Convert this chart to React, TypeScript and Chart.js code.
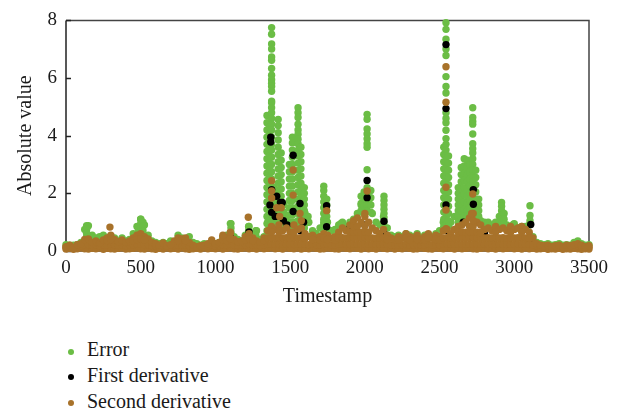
import { useEffect, useRef } from "react";
import { Chart, registerables } from "chart.js";

Chart.register(...registerables);

// ---------- DATA ----------
const baseTimestamps = [
  0, 25, 50, 75, 100, 125, 150, 175, 200, 225, 250, 275, 300, 325, 350, 375, 400, 425, 450, 475,
  500, 525, 550, 575, 600, 625, 650, 675, 700, 725, 750, 775, 800, 825, 850, 875, 900, 925, 950, 975,
  1000, 1025, 1050, 1075, 1100, 1125, 1150, 1175, 1200, 1225, 1250, 1275, 1300, 1325, 1350, 1375, 1400, 1425, 1450, 1475,
  1500, 1525, 1550, 1575, 1600, 1625, 1650, 1675, 1700, 1725, 1750, 1775, 1800, 1825, 1850, 1875, 1900, 1925, 1950, 1975,
  2000, 2025, 2050, 2075, 2100, 2125, 2150, 2175, 2200, 2225, 2250, 2275, 2300, 2325, 2350, 2375, 2400, 2425, 2450, 2475,
  2500, 2525, 2550, 2575, 2600, 2625, 2650, 2675, 2700, 2725, 2750, 2775, 2800, 2825, 2850, 2875, 2900, 2925, 2950, 2975,
  3000, 3025, 3050, 3075, 3100, 3125, 3150, 3175, 3200, 3225, 3250, 3275, 3300, 3325, 3350, 3375, 3400, 3425, 3450, 3475,
  3500,
];

// Error (green) envelope at base timestamps
const errorBase = [
  0.22, 0.2, 0.2, 0.22, 0.3, 0.75, 0.88, 0.55, 0.45, 0.5, 0.55, 0.45, 0.5, 0.45, 0.35, 0.45, 0.35, 0.4, 0.6, 0.85,
  1.1, 0.9, 0.55, 0.35, 0.3, 0.25, 0.3, 0.25, 0.35, 0.3, 0.55, 0.45, 0.4, 0.5, 0.3, 0.25, 0.2, 0.25, 0.22, 0.3,
  0.25, 0.3, 0.45, 0.55, 0.95, 0.5, 0.4, 0.35, 0.55, 0.85, 0.55, 0.7, 0.4, 0.5, 1.0, 1.0, 1.2, 1.0, 1.1, 1.2,
  1.0, 1.0, 1.0, 1.0, 1.3, 1.0, 0.7, 0.6, 0.8, 1.0, 1.0, 0.7, 0.75, 0.9, 1.0, 0.85, 1.0, 1.1, 1.3, 1.6,
  1.75, 1.7, 1.3, 1.0, 0.9, 1.2, 0.8, 0.55, 0.5, 0.55, 0.5, 0.6, 0.55, 0.5, 0.6, 0.45, 0.55, 0.55, 0.5, 0.6,
  0.7, 1.0, 1.0, 1.0, 1.2, 1.2, 1.2, 1.2, 1.2, 1.2, 1.2, 1.05, 1.0, 1.0, 0.9, 1.0, 1.2, 1.2, 0.9, 0.85,
  0.95, 0.8, 0.85, 0.85, 0.9, 0.5, 0.3, 0.25, 0.22, 0.25, 0.2, 0.22, 0.25, 0.2, 0.22, 0.2, 0.3, 0.35, 0.25, 0.2,
  0.22,
];

// Error (green) spikes: [timestamp, values]
const errorColumns: [number, number[]][] = [
  [138, [0.88, 0.75, 0.62, 0.5]],
  [485, [0.8, 0.65]],
  [500, [1.1, 0.95, 0.8, 0.68]],
  [515, [1.0, 0.85, 0.7]],
  [1104, [0.95, 0.8, 0.65]],
  [1222, [0.85, 0.7]],
  [1270, [0.7, 0.55]],
  [1345, [4.7, 4.45, 4.2, 3.95, 3.7, 3.45, 3.2, 2.95, 2.7, 2.45, 2.2, 1.95, 1.7, 1.45, 1.2, 0.95, 0.7, 0.5]],
  [1362, [4.3, 4.05, 3.8, 3.55, 3.3, 3.05, 2.8, 2.55, 2.3, 2.05, 1.8, 1.55, 1.3, 1.05, 0.8]],
  [1376, [7.75, 7.52, 7.18, 7.01, 6.73, 6.62, 6.33, 6.1, 5.94, 5.82, 5.71, 5.54, 5.2, 5.14, 4.97, 4.8, 4.6, 4.4, 4.2, 3.95, 3.7, 3.5, 3.25, 3.0, 2.75, 2.5, 2.25, 2.0, 1.75, 1.5, 1.25, 1.0]],
  [1392, [2.2, 1.95, 1.7, 1.45, 1.2, 0.95]],
  [1420, [4.56, 4.35, 4.1, 3.85, 3.6, 3.35, 3.1, 2.85, 2.6, 2.35, 2.1, 1.85, 1.6, 1.35, 1.1, 0.85]],
  [1440, [3.4, 3.15, 2.9, 2.65, 2.4, 2.15, 1.9, 1.65, 1.4, 1.15, 0.9]],
  [1458, [1.6, 1.35, 1.1, 0.85]],
  [1495, [3.0, 2.75, 2.5, 2.25, 2.0, 1.75, 1.5, 1.25, 1.0, 0.8]],
  [1515, [3.95, 3.75, 3.5, 3.25, 3.0, 2.75, 2.5, 2.25, 2.0, 1.75, 1.5, 1.25, 1.0, 0.8]],
  [1553, [4.97, 4.8, 4.63, 4.4, 4.2, 4.05, 3.88, 3.72, 3.5, 3.3, 3.05, 2.8, 2.55, 2.3, 2.05, 1.8, 1.55, 1.3, 1.05, 0.8]],
  [1572, [3.6, 3.35, 3.1, 2.85, 2.6, 2.35, 2.1, 1.85, 1.6, 1.35, 1.1, 0.85]],
  [1595, [2.2, 2.0, 1.8, 1.6, 1.4, 1.2, 1.0, 0.8]],
  [1620, [1.2, 1.0]],
  [1725, [2.25, 2.1, 1.9, 1.7, 1.5, 1.3, 1.1, 0.9, 0.7]],
  [1745, [1.8, 1.6, 1.4, 1.2, 1.0, 0.8]],
  [1840, [0.96]],
  [1975, [1.9, 1.65, 1.4]],
  [1995, [2.05, 1.8, 1.55, 1.3]],
  [2015, [4.74, 4.57, 4.23, 4.06, 3.89, 3.72, 3.6, 2.82, 2.2, 2.0, 1.8, 1.6, 1.4]],
  [2040, [2.1, 1.85, 1.6, 1.35]],
  [2128, [1.9, 1.75, 1.6, 1.45, 1.3, 1.15, 1.0, 0.85]],
  [2528, [3.6, 3.35, 3.1, 2.85, 2.6, 2.35, 2.1, 1.85, 1.6, 1.35, 1.1, 0.85]],
  [2543, [7.92, 7.69, 7.35, 7.01, 6.78, 6.05, 5.71, 5.48, 4.8, 4.6, 4.45, 4.19, 3.9, 3.7, 3.5, 3.3, 3.1, 2.9, 2.7, 2.5, 2.3, 2.1, 1.9, 1.7, 1.5, 1.3, 1.1, 0.9]],
  [2560, [3.3, 3.05, 2.8, 2.55, 2.3, 2.05, 1.8, 1.55, 1.3, 1.05, 0.85]],
  [2625, [2.2, 2.0, 1.8, 1.6, 1.4, 1.2, 1.0]],
  [2645, [2.9, 2.65, 2.4, 2.15, 1.9, 1.65, 1.4, 1.15]],
  [2665, [3.2, 2.95, 2.7, 2.45, 2.2, 1.95, 1.7, 1.45, 1.2]],
  [2685, [3.15, 2.9, 2.65, 2.4, 2.15, 1.9, 1.65, 1.4, 1.2]],
  [2703, [3.0, 2.75, 2.5, 2.25, 2.0, 1.75, 1.5, 1.25]],
  [2722, [4.97, 4.63, 4.5, 4.4, 4.06, 3.72, 3.55, 3.4, 3.2, 3.0, 2.8, 2.6, 2.4, 2.2, 2.0, 1.8, 1.6, 1.4, 1.2]],
  [2742, [2.8, 2.55, 2.3, 2.05, 1.8, 1.55, 1.3, 1.1]],
  [2762, [1.8, 1.6, 1.4, 1.2, 1.0]],
  [2915, [1.68, 1.55, 1.4, 1.25, 1.1, 0.95]],
  [2932, [1.3, 1.1, 0.95]],
  [2995, [0.93]],
  [3075, [0.83]],
  [3105, [1.57, 1.23, 1.05]],
];

// First derivative (black) visible points
const firstPoints: [number, number][] = [
  [1060, 0.45], [1100, 0.5], [1225, 0.66], [1365, 1.6], [1370, 3.95], [1370, 3.78], [1376, 2.13],
  [1376, 1.34], [1400, 1.2], [1410, 1.9], [1435, 1.68], [1447, 1.68], [1455, 1.05], [1480, 0.9],
  [1520, 3.32], [1520, 1.37], [1566, 1.65], [1570, 0.7], [1590, 1.0], [1744, 1.57], [1744, 0.84],
  [1900, 0.8], [2000, 0.9], [2015, 2.45], [2015, 1.85], [2128, 1.03], [2128, 0.61], [2300, 0.3],
  [2390, 0.37], [2543, 7.16], [2543, 4.94], [2543, 1.6], [2543, 0.71], [2659, 1.0], [2726, 2.13],
  [2726, 1.62], [2800, 0.6], [3100, 0.35], [3110, 0.92],
];

// Second derivative (brown) at base timestamps: low, mid and upper values
const secondLow = [
  0.07, 0.09, 0.06, 0.08, 0.1, 0.08, 0.07, 0.09, 0.08, 0.1, 0.06, 0.09, 0.08, 0.07, 0.09, 0.1, 0.07, 0.08, 0.09, 0.1,
  0.08, 0.07, 0.1, 0.08, 0.06, 0.09, 0.07, 0.1, 0.08, 0.09, 0.07, 0.1, 0.08, 0.06, 0.08, 0.09, 0.07, 0.1, 0.08, 0.09,
  0.08, 0.1, 0.07, 0.09, 0.1, 0.08, 0.07, 0.09, 0.1, 0.08, 0.09, 0.07, 0.1, 0.08, 0.09, 0.1, 0.08, 0.09, 0.07, 0.1,
  0.09, 0.08, 0.1, 0.07, 0.09, 0.08, 0.1, 0.09, 0.07, 0.08, 0.1, 0.09, 0.08, 0.07, 0.1, 0.09, 0.08, 0.1, 0.09, 0.07,
  0.1, 0.08, 0.09, 0.07, 0.1, 0.09, 0.08, 0.1, 0.07, 0.09, 0.08, 0.1, 0.09, 0.07, 0.08, 0.1, 0.09, 0.08, 0.07, 0.1,
  0.09, 0.08, 0.1, 0.09, 0.07, 0.1, 0.08, 0.09, 0.1, 0.08, 0.07, 0.09, 0.1, 0.08, 0.09, 0.07, 0.1, 0.08, 0.09, 0.1,
  0.08, 0.09, 0.07, 0.1, 0.08, 0.09, 0.07, 0.08, 0.09, 0.06, 0.08, 0.07, 0.09, 0.06, 0.08, 0.07, 0.09, 0.08, 0.06, 0.08,
  0.07,
];
const secondMid = [
  0.12, 0.14, 0.1, 0.15, 0.17, 0.22, 0.22, 0.2, 0.21, 0.18, 0.22, 0.22, 0.23, 0.22, 0.2, 0.22, 0.19, 0.21, 0.22, 0.23,
  0.23, 0.22, 0.22, 0.19, 0.17, 0.14, 0.18, 0.13, 0.15, 0.21, 0.22, 0.22, 0.22, 0.19, 0.14, 0.12, 0.13, 0.14, 0.17, 0.22,
  0.17, 0.19, 0.22, 0.22, 0.23, 0.22, 0.2, 0.21, 0.22, 0.23, 0.22, 0.21, 0.19, 0.22, 0.23, 0.23, 0.23, 0.23, 0.23, 0.23,
  0.23, 0.23, 0.23, 0.23, 0.23, 0.22, 0.23, 0.22, 0.22, 0.23, 0.23, 0.22, 0.22, 0.23, 0.23, 0.23, 0.23, 0.23, 0.23, 0.23,
  0.23, 0.23, 0.23, 0.23, 0.23, 0.23, 0.23, 0.22, 0.22, 0.22, 0.22, 0.23, 0.22, 0.22, 0.23, 0.22, 0.22, 0.23, 0.22, 0.23,
  0.22, 0.23, 0.23, 0.23, 0.23, 0.23, 0.23, 0.23, 0.23, 0.23, 0.23, 0.23, 0.23, 0.23, 0.23, 0.23, 0.23, 0.23, 0.23, 0.23,
  0.23, 0.23, 0.23, 0.23, 0.23, 0.22, 0.17, 0.14, 0.13, 0.14, 0.12, 0.13, 0.14, 0.12, 0.14, 0.13, 0.15, 0.17, 0.14, 0.12,
  0.13,
];
const secondHigh = [
  0.15, 0.2, 0.12, 0.22, 0.25, 0.4, 0.42, 0.3, 0.35, 0.28, 0.38, 0.45, 0.55, 0.4, 0.32, 0.38, 0.3, 0.35, 0.45, 0.55,
  0.6, 0.5, 0.42, 0.3, 0.25, 0.2, 0.28, 0.18, 0.22, 0.35, 0.45, 0.42, 0.45, 0.3, 0.2, 0.15, 0.18, 0.2, 0.25, 0.38,
  0.25, 0.3, 0.5, 0.45, 0.6, 0.4, 0.32, 0.35, 0.5, 0.6, 0.45, 0.35, 0.3, 0.45, 0.7, 0.85, 0.75, 0.9, 0.7, 0.8,
  0.65, 0.9, 0.75, 0.8, 0.6, 0.5, 0.55, 0.45, 0.5, 0.6, 0.55, 0.45, 0.5, 0.65, 0.8, 0.7, 0.9, 1.05, 1.15, 1.0,
  1.2, 1.0, 0.8, 0.7, 0.6, 0.75, 0.55, 0.45, 0.4, 0.5, 0.45, 0.6, 0.5, 0.45, 0.55, 0.4, 0.5, 0.6, 0.45, 0.55,
  0.5, 0.7, 0.75, 0.6, 0.75, 0.85, 0.9, 1.0, 1.15, 1.3, 1.0, 0.9, 0.75, 0.8, 0.7, 0.85, 0.75, 0.8, 0.7, 0.85,
  0.75, 0.8, 0.85, 0.75, 0.65, 0.45, 0.25, 0.2, 0.18, 0.2, 0.15, 0.18, 0.2, 0.15, 0.2, 0.18, 0.22, 0.25, 0.2, 0.15,
  0.18,
];

// Second derivative (brown) extra points in busier stretches
const secondFill: [number, number][] = [
  [275, 0.36], [300, 0.4], [450, 0.36], [475, 0.4], [500, 0.43], [525, 0.38], [750, 0.36], [800, 0.36],
  [1050, 0.38], [1075, 0.36], [1100, 0.43], [1200, 0.38], [1225, 0.43], [1250, 0.36], [1325, 0.36],
  [1350, 0.45], [1375, 0.46], [1400, 0.45], [1425, 0.47], [1450, 0.45], [1475, 0.46], [1500, 0.44], [1525, 0.47],
  [1550, 0.45], [1575, 0.46], [1600, 0.44], [1650, 0.4], [1700, 0.38], [1725, 0.44], [1750, 0.4], [1800, 0.38],
  [1825, 0.44], [1850, 0.46], [1875, 0.45], [1900, 0.47],
  [1925, 0.46], [1950, 0.47], [1975, 0.46], [2000, 0.47], [2025, 0.46], [2050, 0.45], [2075, 0.44], [2100, 0.44],
  [2125, 0.45], [2150, 0.4], [2225, 0.38], [2275, 0.44], [2300, 0.38], [2350, 0.4], [2400, 0.38], [2425, 0.44],
  [2475, 0.4], [2500, 0.38], [2525, 0.45], [2550, 0.46], [2575, 0.44], [2600, 0.45], [2625, 0.46],
  [2650, 0.47], [2675, 0.46], [2700, 0.47], [2725, 0.46], [2750, 0.47], [2775, 0.46], [2800, 0.45], [2825, 0.46],
  [2850, 0.45], [2875, 0.47], [2900, 0.45], [2925, 0.46], [2950, 0.44], [2975, 0.47], [3000, 0.45], [3025, 0.46],
  [3050, 0.47], [3075, 0.45], [3100, 0.44],
  [1375, 0.65], [1425, 0.66], [1525, 0.65], [1900, 0.66], [1925, 0.65], [1950, 0.67], [1975, 0.65], [2000, 0.66],
  [2025, 0.65], [2625, 0.64], [2650, 0.66], [2675, 0.65], [2700, 0.67], [2725, 0.66], [2750, 0.65], [2775, 0.64],
  [2875, 0.65], [2975, 0.64], [3050, 0.65],
  [1925, 0.85], [1950, 0.86], [2000, 0.87], [2700, 0.86], [2725, 0.87],
  [2725, 1.06],
];

// Second derivative (brown) isolated points
const secondPoints: [number, number][] = [
  [294, 0.83], [1050, 0.55], [1100, 0.65], [1220, 1.17], [1376, 2.44], [1376, 2.08], [1376, 1.84],
  [1410, 1.5], [1430, 1.2], [1440, 1.5], [1520, 2.81], [1520, 1.94], [1566, 1.3], [1575, 1.05],
  [1744, 1.4], [2000, 1.3], [2015, 2.08], [2543, 6.39], [2543, 5.16], [2543, 2.21], [2543, 1.42],
  [2543, 0.77], [2715, 1.3], [2722, 1.98],
];

const seriesNames = ["Error", "First derivative", "Second derivative"];
const seriesColors = ["#6bbd45", "#000000", "#a8722a"];
const xTickStep = 500;
const yTickStep = 2;

// ---------- CHART ----------
const FONT = "'Liberation Serif', 'Times New Roman', serif";
const TEXT = "#1a1a1a";

const framePlugin = {
  id: "frame",
  beforeDatasetsDraw(chart: any) {
    const { ctx, chartArea } = chart;
    const { left, top, right, bottom } = chartArea;
    const y = chart.scales.y;
    ctx.save();
    ctx.lineWidth = 1.5;
    ctx.strokeStyle = "#444444";
    ctx.beginPath();
    ctx.moveTo(left, top);
    ctx.lineTo(right, top);
    ctx.lineTo(right, bottom);
    ctx.lineTo(left, bottom);
    ctx.stroke();
    ctx.strokeStyle = "#222222";
    ctx.beginPath();
    ctx.moveTo(left, top);
    ctx.lineTo(left, bottom);
    for (const t of y.ticks) {
      const py = Math.round(y.getPixelForValue(t.value)) + 0.5;
      ctx.moveTo(left, py);
      ctx.lineTo(left + 5, py);
    }
    ctx.stroke();
    ctx.restore();
  },
};

export default function App() {
  const ref = useRef<HTMLCanvasElement | null>(null);

  useEffect(() => {
    if (!ref.current) return;
    const errorData = baseTimestamps
      .map((t, i) => ({ x: t, y: errorBase[i] }))
      .concat(errorColumns.flatMap(([t, vals]) => vals.map((v) => ({ x: t, y: v }))));
    const firstData = firstPoints.map(([t, v]) => ({ x: t, y: v }));
    const secondData = [
      ...baseTimestamps.map((t, i) => ({ x: t, y: secondLow[i] })),
      ...baseTimestamps.map((t, i) => ({ x: t, y: secondMid[i] })),
      ...baseTimestamps.map((t, i) => ({ x: t, y: secondHigh[i] })),
      ...secondFill.map(([t, v]) => ({ x: t, y: v })),
      ...secondPoints.map(([t, v]) => ({ x: t, y: v })),
    ];
    const common = {
      pointRadius: 3.7,
      pointHoverRadius: 3.7,
      pointBorderWidth: 0,
      clip: false as any,
      showLine: false,
    };
    const chart = new Chart(ref.current, {
      type: "scatter",
      data: {
        datasets: [
          { label: seriesNames[0], data: errorData, backgroundColor: seriesColors[0], borderColor: seriesColors[0], order: 3, ...common },
          { label: seriesNames[1], data: firstData, backgroundColor: seriesColors[1], borderColor: seriesColors[1], order: 2, ...common },
          { label: seriesNames[2], data: secondData, backgroundColor: seriesColors[2], borderColor: seriesColors[2], order: 1, ...common },
        ],
      },
      options: {
        animation: false,
        responsive: false,
        devicePixelRatio: 1,
        layout: { padding: { left: 0, right: 40, top: 16, bottom: 11 } },
        plugins: { legend: { display: false }, tooltip: { enabled: false } },
        events: [],
        scales: {
          x: {
            type: "linear",
            min: 0,
            max: 3500,
            ticks: {
              stepSize: xTickStep,
              color: TEXT,
              font: { family: FONT, size: 19 },
              padding: 6,
              maxRotation: 0,
              callback: (v: any) => String(v),
            },
            grid: { display: false, drawTicks: false },
            border: { display: false },
            title: { display: true, text: "Timestamp", color: TEXT, font: { family: FONT, size: 20 }, padding: 0 },
            afterFit: (s: any) => { s.height = 58; },
          },
          y: {
            type: "linear",
            min: 0,
            max: 8,
            ticks: {
              stepSize: yTickStep,
              color: TEXT,
              font: { family: FONT, size: 19 },
              padding: 9,
              callback: (v: any) => String(v),
            },
            grid: { display: false, drawTicks: false },
            border: { display: false },
            title: { display: true, text: "Absolute value", color: TEXT, font: { family: FONT, size: 20 }, padding: { top: 14, bottom: 0 } },
            afterFit: (s: any) => { s.width = 66; },
          },
        },
      },
      plugins: [framePlugin],
    });
    return () => chart.destroy();
  }, []);

  const legendTops = [339, 365, 391];
  const dotOffsets = [9.7, 9.3, 8.7];
  return (
    <div style={{ position: "absolute", left: 0, top: 0, width: 629, height: 414, background: "#fff", fontFamily: FONT, color: TEXT }}>
      <canvas ref={ref} width={629} height={320} style={{ display: "block", width: 629, height: 320 }} />
      {seriesNames.map((name, i) => (
        <div key={name} style={{ position: "absolute", left: 87, top: legendTops[i], fontSize: 20, lineHeight: "20px", whiteSpace: "nowrap" }}>
          <span style={{ position: "absolute", left: -19, top: dotOffsets[i], width: 6, height: 6, borderRadius: 3, background: seriesColors[i] }} />
          {name}
        </div>
      ))}
    </div>
  );
}
